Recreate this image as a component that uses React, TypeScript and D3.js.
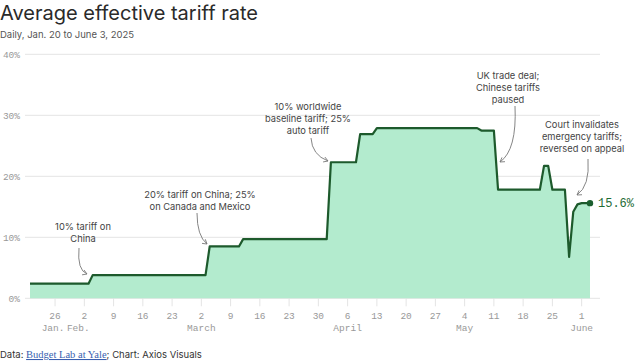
import React, { useEffect, useRef } from 'react';
import * as d3 from 'd3';

// break points of the daily series (flat stretches in between)
const dates = [
  '2025-01-20', '2025-02-03', '2025-02-04', '2025-03-03', '2025-03-04',
  '2025-03-11', '2025-03-12', '2025-04-01', '2025-04-02', '2025-04-08',
  '2025-04-09', '2025-04-12', '2025-04-13', '2025-05-07', '2025-05-08',
  '2025-05-11', '2025-05-12', '2025-05-22', '2025-05-23', '2025-05-24',
  '2025-05-25', '2025-05-28', '2025-05-29', '2025-05-30', '2025-05-31',
  '2025-06-01', '2025-06-03',
];
const rates = [
  2.4, 2.4, 3.8, 3.8, 8.5,
  8.5, 9.7, 9.7, 22.3, 22.3,
  26.9, 26.9, 27.9, 27.9, 27.5,
  27.5, 17.8, 17.8, 21.7, 21.7,
  17.8, 17.8, 6.8, 14.2, 15.4,
  15.6, 15.6,
];

const yTicks = [0, 10, 20, 30, 40];
const monthLabels = [
  ['2025-01-26', 'Jan.'],
  ['2025-02-02', 'Feb.'],
  ['2025-03-02', 'March'],
  ['2025-04-06', 'April'],
  ['2025-05-04', 'May'],
  ['2025-06-01', 'June'],
];

const notes = [
  { lines: ['10% tariff on', 'China'], date: '2025-02-03', value: 3.8 },
  { lines: ['20% tariff on China; 25%', 'on Canada and Mexico'], date: '2025-03-04', value: 8.7 },
  { lines: ['10% worldwide', 'baseline tariff; 25%', 'auto tariff'], date: '2025-04-02', value: 22.3 },
  { lines: ['UK trade deal;', 'Chinese tariffs', 'paused'], date: '2025-05-12', value: 22.3 },
  { lines: ['Court invalidates', 'emergency tariffs;', 'reversed on appeal'], date: '2025-05-29', value: 16.9 },
];

const parse = d3.timeParse('%Y-%m-%d');
const W = 636;
const H = 362;
const SANS = 'Inter, "Noto Sans", sans-serif';
const MONO = '"Liberation Mono", "DejaVu Sans Mono", monospace';

export default function App() {
  const ref = useRef<SVGSVGElement>(null);

  useEffect(() => {
    document.body.style.margin = '0';
    const svg = d3.select(ref.current);
    svg.selectAll('*').remove();

    const data = dates.map((d, i) => ({ date: parse(d) as Date, value: rates[i] }));

    const x = d3.scaleTime()
      .domain([parse('2025-01-20') as Date, parse('2025-06-03') as Date])
      .range([30, 590]);
    const y = d3.scaleLinear().domain([0, 40]).range([298.3, 54.3]);

    // title block
    svg.append('text').attr('x', 0).attr('y', 19.5)
      .attr('font-family', SANS).attr('font-size', 20).attr('fill', '#2a2a2a')
      .text('Average effective tariff rate');
    svg.append('text').attr('x', 0).attr('y', 38)
      .attr('font-family', SANS).attr('font-size', 9.5).attr('fill', '#555')
      .text('Daily, Jan. 20 to June 3, 2025');

    // grid + y labels
    const grid = svg.append('g');
    yTicks.forEach(t => {
      grid.append('line')
        .attr('x1', 25).attr('x2', 600)
        .attr('y1', y(t)).attr('y2', y(t))
        .attr('stroke', '#e4e4e4').attr('stroke-width', 1);
      grid.append('text')
        .attr('x', 20).attr('y', y(t) + 3.5)
        .attr('text-anchor', 'end')
        .attr('font-family', MONO).attr('font-size', 9.5).attr('fill', '#999')
        .text(t + '%');
    });

    // x ticks (Sundays)
    const ticks = x.ticks(d3.timeWeek.every(1) as d3.TimeInterval)
      .filter(d => d >= (parse('2025-01-26') as Date));
    const xa = svg.append('g');
    ticks.forEach(d => {
      xa.append('line')
        .attr('x1', x(d)).attr('x2', x(d))
        .attr('y1', y(0)).attr('y2', y(0) + 8)
        .attr('stroke', '#e4e4e4');
      xa.append('text')
        .attr('x', x(d)).attr('y', 319)
        .attr('text-anchor', 'middle')
        .attr('font-family', MONO).attr('font-size', 9.5).attr('fill', '#999')
        .text(d3.timeFormat('%-d')(d));
    });
    monthLabels.forEach(([d, label], i) => {
      xa.append('text')
        .attr('x', x(parse(d) as Date) + (i === 0 ? -2 : i === 1 ? -6 : 0))
        .attr('y', 331)
        .attr('text-anchor', 'middle')
        .attr('font-family', MONO).attr('font-size', 9.5).attr('fill', '#999')
        .text(label);
    });

    // area + line
    const area = d3.area<{ date: Date; value: number }>()
      .x(d => x(d.date)).y0(y(0)).y1(d => y(d.value));
    const line = d3.line<{ date: Date; value: number }>()
      .x(d => x(d.date)).y(d => y(d.value));

    svg.append('path').datum(data)
      .attr('fill', '#b3ebce').attr('d', area);
    svg.append('path').datum(data)
      .attr('fill', 'none').attr('stroke', '#1d5a2c')
      .attr('stroke-width', 2.2).attr('stroke-linejoin', 'round')
      .attr('d', line);

    const last = data[data.length - 1];
    svg.append('circle')
      .attr('cx', x(last.date)).attr('cy', y(last.value)).attr('r', 3.2)
      .attr('fill', '#1b5e2e');
    svg.append('text')
      .attr('x', x(last.date) + 8).attr('y', y(last.value) + 4)
      .attr('font-family', MONO).attr('font-size', 12).attr('fill', '#1e6b34')
      .text(last.value + '%');

    // annotations: text block + curved arrow to the target point
    const layout = [
      { cx: 83, top: 226, from: [79, 248], ctrl: [77, 270], to: [87, 274] },
      { cx: 200, top: 194, from: [197, 213], ctrl: [197, 236], to: [207, 244] },
      { cx: 308, top: 106, from: [311, 138], ctrl: [312, 155], to: [328, 161] },
      { cx: 508, top: 75, from: [515, 106], ctrl: [517, 150], to: [500, 162] },
      { cx: 582, top: 124, from: [588, 159], ctrl: [590, 186], to: [577, 195] },
    ];
    const ann = svg.append('g');
    notes.forEach((n, i) => {
      const l = layout[i];
      const t = ann.append('text')
        .attr('text-anchor', 'middle')
        .attr('font-family', SANS).attr('font-size', 9.3).attr('fill', '#444');
      n.lines.forEach((s, k) => {
        t.append('tspan').attr('x', l.cx).attr('y', l.top + 3.5 + k * 12).text(s);
      });
      const [fx, fy] = l.from;
      const [qx, qy] = l.ctrl;
      const [tx, ty] = l.to;
      ann.append('path')
        .attr('d', `M${fx},${fy}Q${qx},${qy} ${tx},${ty}`)
        .attr('fill', 'none').attr('stroke', '#777').attr('stroke-width', 0.9);
      const ang = Math.atan2(ty - qy, tx - qx);
      const a1 = ang + Math.PI - 0.55;
      const a2 = ang + Math.PI + 0.55;
      ann.append('path')
        .attr('d', `M${tx + 5 * Math.cos(a1)},${ty + 5 * Math.sin(a1)}L${tx},${ty}L${tx + 5 * Math.cos(a2)},${ty + 5 * Math.sin(a2)}`)
        .attr('fill', 'none').attr('stroke', '#777').attr('stroke-width', 0.9);
    });

    // footer
    const foot = svg.append('text').attr('x', 0).attr('y', 358)
      .attr('font-family', SANS).attr('font-size', 9.5).attr('fill', '#333');
    foot.append('tspan').text('Data: ');
    foot.append('tspan')
      .attr('font-family', '"Liberation Serif", serif').attr('font-size', 10.5)
      .attr('fill', '#3a5fb0').attr('text-decoration', 'underline')
      .text('Budget Lab at Yale');
    foot.append('tspan').text('; Chart: Axios Visuals');
  }, []);

  return <svg ref={ref} width={W} height={H} style={{ display: 'block', background: '#fff' }} />;
}
